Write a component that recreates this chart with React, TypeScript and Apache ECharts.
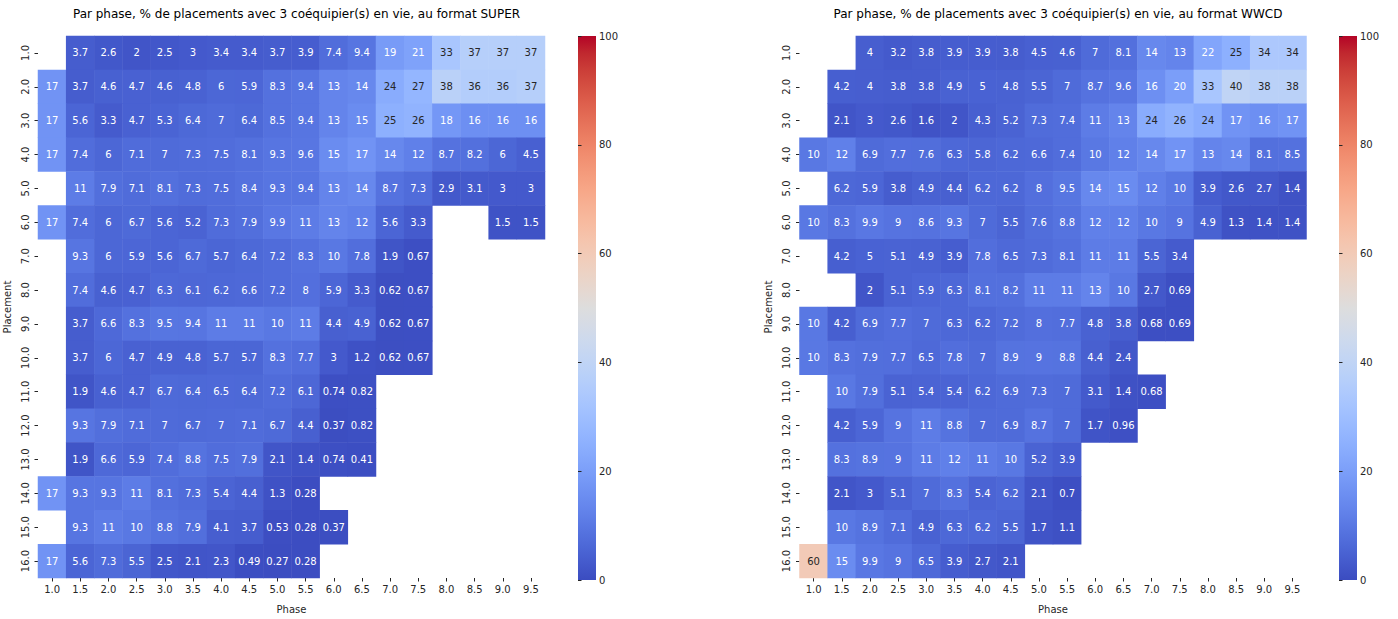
import React, { useEffect, useRef } from "react";
import * as echarts from "echarts";

const phases = ["1.0","1.5","2.0","2.5","3.0","3.5","4.0","4.5","5.0","5.5","6.0","6.5","7.0","7.5","8.0","8.5","9.0","9.5"];
const placements = ["1.0","2.0","3.0","4.0","5.0","6.0","7.0","8.0","9.0","10.0","11.0","12.0","13.0","14.0","15.0","16.0"];
const colorbarTicks = [0, 20, 40, 60, 80, 100];

const N = null;
const superRows: (number | null)[][] = [
  [N, 3.7, 2.6, 2, 2.5, 3, 3.4, 3.4, 3.7, 3.9, 7.4, 9.4, 19, 21, 33, 37, 37, 37],
  [17, 3.7, 4.6, 4.7, 4.6, 4.8, 6, 5.9, 8.3, 9.4, 13, 14, 24, 27, 38, 36, 36, 37],
  [17, 5.6, 3.3, 4.7, 5.3, 6.4, 7, 6.4, 8.5, 9.4, 13, 15, 25, 26, 18, 16, 16, 16],
  [17, 7.4, 6, 7.1, 7, 7.3, 7.5, 8.1, 9.3, 9.6, 15, 17, 14, 12, 8.7, 8.2, 6, 4.5],
  [N, 11, 7.9, 7.1, 8.1, 7.3, 7.5, 8.4, 9.3, 9.4, 13, 14, 8.7, 7.3, 2.9, 3.1, 3, 3],
  [17, 7.4, 6, 6.7, 5.6, 5.2, 7.3, 7.9, 9.9, 11, 13, 12, 5.6, 3.3, N, N, 1.5, 1.5],
  [N, 9.3, 6, 5.9, 5.6, 6.7, 5.7, 6.4, 7.2, 8.3, 10, 7.8, 1.9, 0.67],
  [N, 7.4, 4.6, 4.7, 6.3, 6.1, 6.2, 6.6, 7.2, 8, 5.9, 3.3, 0.62, 0.67],
  [N, 3.7, 6.6, 8.3, 9.5, 9.4, 11, 11, 10, 11, 4.4, 4.9, 0.62, 0.67],
  [N, 3.7, 6, 4.7, 4.9, 4.8, 5.7, 5.7, 8.3, 7.7, 3, 1.2, 0.62, 0.67],
  [N, 1.9, 4.6, 4.7, 6.7, 6.4, 6.5, 6.4, 7.2, 6.1, 0.74, 0.82],
  [N, 9.3, 7.9, 7.1, 7, 6.7, 7, 7.1, 6.7, 4.4, 0.37, 0.82],
  [N, 1.9, 6.6, 5.9, 7.4, 8.8, 7.5, 7.9, 2.1, 1.4, 0.74, 0.41],
  [17, 9.3, 9.3, 11, 8.1, 7.3, 5.4, 4.4, 1.3, 0.28],
  [N, 9.3, 11, 10, 8.8, 7.9, 4.1, 3.7, 0.53, 0.28, 0.37],
  [17, 5.6, 7.3, 5.5, 2.5, 2.1, 2.3, 0.49, 0.27, 0.28],
];

const wwcdRows: (number | null)[][] = [
  [N, N, 4, 3.2, 3.8, 3.9, 3.9, 3.8, 4.5, 4.6, 7, 8.1, 14, 13, 22, 25, 34, 34],
  [N, 4.2, 4, 3.8, 3.8, 4.9, 5, 4.8, 5.5, 7, 8.7, 9.6, 16, 20, 33, 40, 38, 38],
  [N, 2.1, 3, 2.6, 1.6, 2, 4.3, 5.2, 7.3, 7.4, 11, 13, 24, 26, 24, 17, 16, 17],
  [10, 12, 6.9, 7.7, 7.6, 6.3, 5.8, 6.2, 6.6, 7.4, 10, 12, 14, 17, 13, 14, 8.1, 8.5],
  [N, 6.2, 5.9, 3.8, 4.9, 4.4, 6.2, 6.2, 8, 9.5, 14, 15, 12, 10, 3.9, 2.6, 2.7, 1.4],
  [10, 8.3, 9.9, 9, 8.6, 9.3, 7, 5.5, 7.6, 8.8, 12, 12, 10, 9, 4.9, 1.3, 1.4, 1.4],
  [N, 4.2, 5, 5.1, 4.9, 3.9, 7.8, 6.5, 7.3, 8.1, 11, 11, 5.5, 3.4],
  [N, N, 2, 5.1, 5.9, 6.3, 8.1, 8.2, 11, 11, 13, 10, 2.7, 0.69],
  [10, 4.2, 6.9, 7.7, 7, 6.3, 6.2, 7.2, 8, 7.7, 4.8, 3.8, 0.68, 0.69],
  [10, 8.3, 7.9, 7.7, 6.5, 7.8, 7, 8.9, 9, 8.8, 4.4, 2.4],
  [N, 10, 7.9, 5.1, 5.4, 5.4, 6.2, 6.9, 7.3, 7, 3.1, 1.4, 0.68],
  [N, 4.2, 5.9, 9, 11, 8.8, 7, 6.9, 8.7, 7, 1.7, 0.96],
  [N, 8.3, 8.9, 9, 11, 12, 11, 10, 5.2, 3.9],
  [N, 2.1, 3, 5.1, 7, 8.3, 5.4, 6.2, 2.1, 0.7],
  [N, 10, 8.9, 7.1, 4.9, 6.3, 6.2, 5.5, 1.7, 1.1],
  [60, 15, 9.9, 9, 6.5, 3.9, 2.7, 2.1],
];

const titles = [
  "Par phase, % de placements avec 3 coéquipier(s) en vie, au format SUPER",
  "Par phase, % de placements avec 3 coéquipier(s) en vie, au format WWCD",
];

const coolwarm = [
  [59, 76, 192], [68, 90, 204], [77, 104, 215], [87, 117, 225], [98, 130, 234],
  [108, 142, 241], [119, 154, 247], [130, 165, 251], [141, 176, 254], [152, 185, 255],
  [163, 194, 255], [174, 201, 253], [184, 208, 249], [194, 213, 244], [204, 217, 238],
  [213, 219, 230], [221, 221, 221], [229, 216, 209], [236, 211, 197], [241, 204, 185],
  [245, 196, 173], [247, 187, 160], [247, 177, 148], [247, 166, 135], [244, 154, 123],
  [241, 141, 111], [236, 127, 99], [229, 112, 88], [222, 96, 77], [213, 80, 66],
  [203, 62, 56], [192, 40, 47], [180, 4, 38],
].map(([r, g, b]) => `rgb(${r},${g},${b})`);

const FONT = "DejaVu Sans";
const TXT = "#262626";

function buildData(rows: (number | null)[][]) {
  const out: any[] = [];
  rows.forEach((row, r) => {
    row.forEach((v, c) => {
      if (v === null || v === undefined) return;
      out.push({
        value: [c, r, v],
        label: { color: v >= 23 ? TXT : "#ffffff" },
      });
    });
  });
  return out;
}

export default function App() {
  const ref = useRef<HTMLDivElement>(null);
  useEffect(() => {
    if (!ref.current) return;
    const chart = echarts.init(ref.current, undefined, { renderer: "svg" });

    const G = [
      { left: 38, top: 36, width: 507, height: 544, cbLeft: 578, titleX: 291.5 },
      { left: 799.5, top: 36, width: 507, height: 544, cbLeft: 1339, titleX: 1053 },
    ];
    const CBW = 18;

    const grids: any[] = [];
    const xAxes: any[] = [];
    const yAxes: any[] = [];
    G.forEach((g) => {
      grids.push({ left: g.left, top: g.top, width: g.width, height: g.height, containLabel: false });
    });
    G.forEach((g) => {
      grids.push({ left: g.cbLeft, top: g.top, width: CBW, height: g.height, containLabel: false });
    });

    [0, 1].forEach((i) => {
      xAxes.push({
        type: "category",
        gridIndex: i,
        data: phases,
        name: "Phase",
        nameLocation: "middle",
        nameGap: 26,
        nameTextStyle: { fontFamily: FONT, fontSize: 10, color: TXT },
        axisLine: { show: false },
        axisTick: { show: true, alignWithLabel: true, length: 3.5, lineStyle: { color: TXT } },
        axisLabel: { fontFamily: FONT, fontSize: 10, color: TXT, margin: 6, interval: 0 },
        splitLine: { show: false },
      });
      yAxes.push({
        type: "category",
        gridIndex: i,
        data: placements,
        inverse: true,
        name: "Placement",
        nameLocation: "middle",
        nameGap: 26,
        nameRotate: 90,
        nameTextStyle: { fontFamily: FONT, fontSize: 10, color: TXT },
        axisLine: { show: false },
        axisTick: { show: true, alignWithLabel: true, length: 3.5, lineStyle: { color: TXT } },
        axisLabel: { fontFamily: FONT, fontSize: 10, color: TXT, margin: 8, rotate: 90, interval: 0 },
        splitLine: { show: false },
      });
    });
    [2, 3].forEach((i) => {
      xAxes.push({ type: "value", gridIndex: i, show: false, min: 0, max: 1 });
      yAxes.push({
        type: "value",
        gridIndex: i,
        min: 0,
        max: 100,
        interval: 20,
        position: "right",
        axisLine: { show: false },
        axisTick: { show: true, length: 3.5, lineStyle: { color: TXT } },
        axisLabel: {
          fontFamily: FONT, fontSize: 10, color: TXT, margin: 3,
          formatter: (v: number) => (colorbarTicks.includes(v) ? String(v) : ""),
        },
        splitLine: { show: false },
      });
    });

    const mkSeries = (rows: (number | null)[][], idx: number) => ({
      type: "heatmap",
      xAxisIndex: idx,
      yAxisIndex: idx,
      data: buildData(rows),
      label: {
        show: true,
        fontFamily: FONT,
        fontSize: 10,
        formatter: (p: any) => String(p.value[2]),
      },
      itemStyle: { borderWidth: 0 },
      emphasis: { disabled: true },
    });

    const rev = coolwarm.slice().reverse();
    const stops = rev.map((c, i) => ({ offset: i / (rev.length - 1), color: c }));

    chart.setOption({
      animation: false,
      backgroundColor: "#ffffff",
      title: G.map((g, i) => ({
        text: titles[i],
        left: g.titleX,
        top: 3,
        textAlign: "center",
        textStyle: { fontFamily: FONT, fontSize: 12, fontWeight: "normal", color: "#000" },
      })),
      grid: grids,
      xAxis: xAxes,
      yAxis: yAxes,
      visualMap: [0, 1].map((i) => ({
        type: "continuous",
        show: false,
        min: 0,
        max: 100,
        seriesIndex: i,
        dimension: 2,
        inRange: { color: coolwarm },
      })),
      series: [mkSeries(superRows, 0), mkSeries(wwcdRows, 1)],
      graphic: G.map((g) => ({
        type: "rect",
        shape: { x: g.cbLeft, y: g.top, width: CBW, height: g.height },
        style: {
          fill: new echarts.graphic.LinearGradient(0, 0, 0, 1, stops),
        },
        silent: true,
        z: 0,
      })),
    });

    return () => chart.dispose();
  }, []);

  return (
    <div
      ref={ref}
      style={{ position: "fixed", left: 0, top: 0, width: 1398, height: 619, background: "#fff" }}
    />
  );
}
